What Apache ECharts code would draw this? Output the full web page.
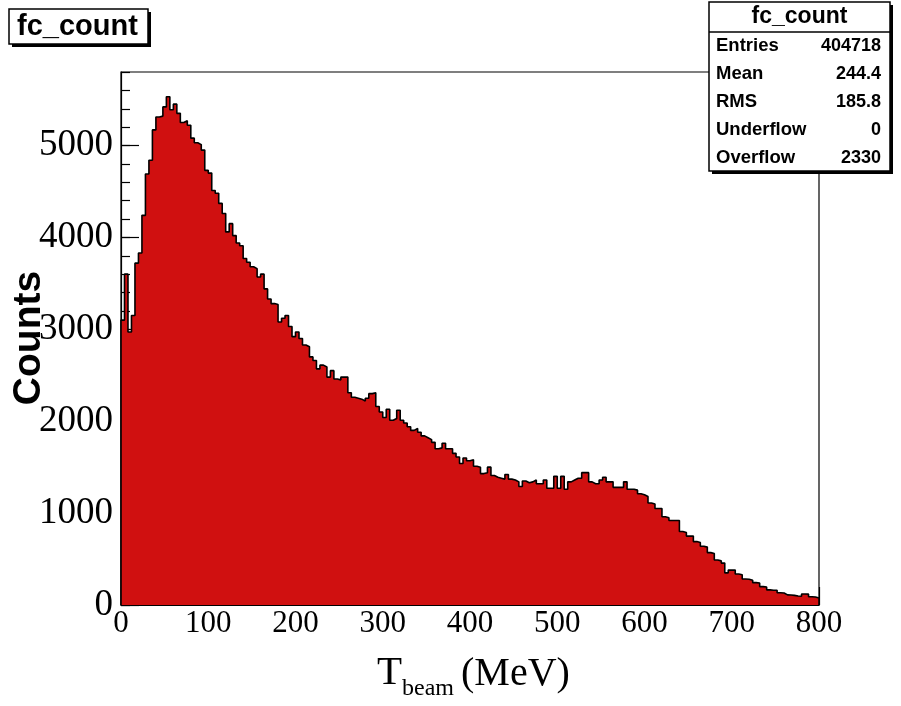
<!DOCTYPE html>
<html>
<head>
<meta charset="utf-8">
<script src="https://cdn.jsdelivr.net/npm/echarts@6/dist/echarts.min.js"></script>
<style>html,body{margin:0;padding:0;background:#fff;}#c{width:901px;height:706px;}</style>
</head>
<body>
<div id="c"></div>
<script>
// Histogram: 200 bins of 4 MeV from 0 to 800 MeV
var binWidth = 4;
var xMin = 0, xMax = 800;
var yMax = 5800;
var xTicks = [0, 100, 200, 300, 400, 500, 600, 700, 800];
var yTicks = [0, 1000, 2000, 3000, 4000, 5000];
var counts = [
  3100, 3600, 2970, 3150, 3720, 3830, 4240, 4690, 4840, 5170,
  5310, 5320, 5420, 5530, 5390, 5450, 5350, 5250, 5270, 5220,
  5080, 5030, 5010, 4950, 4730, 4700, 4510, 4480, 4370, 4260,
  4060, 4150, 4020, 3940, 3910, 3770, 3730, 3680, 3660, 3570,
  3600, 3440, 3330, 3280, 3270, 3080, 3120, 3150, 3030, 2920,
  2970, 2900, 2830, 2810, 2700, 2660, 2570, 2610, 2590, 2480,
  2550, 2460, 2450, 2480, 2480, 2310, 2260, 2250, 2240, 2220,
  2250, 2300, 2310, 2160, 2100, 2040, 2130, 2010, 2030, 2120,
  2010, 1980, 1940, 1900, 1920, 1880, 1840, 1820, 1800, 1770,
  1700, 1710, 1760, 1700, 1700, 1650, 1610, 1540, 1600, 1570,
  1580, 1510, 1500, 1430, 1440, 1500, 1410, 1390, 1380, 1370,
  1420, 1370, 1360, 1340, 1290, 1350, 1330, 1340, 1360, 1320,
  1320, 1360, 1270, 1270, 1400, 1270, 1400, 1260, 1340, 1360,
  1380, 1380, 1440, 1440, 1340, 1320, 1320, 1360, 1390, 1340,
  1340, 1280, 1280, 1280, 1340, 1260, 1260, 1250, 1210, 1200,
  1180, 1110, 1100, 1050, 1050, 960, 950, 920, 920, 920,
  800, 790, 750, 750, 690, 680, 640, 630, 570, 560,
  490, 480, 456, 350, 380, 380, 337, 330, 283, 280,
  270, 243, 240, 200, 195, 165, 160, 160, 134, 130,
  110, 108, 105, 98, 95, 120, 118, 90, 87, 76
];
var statsLabels = ['Entries', 'Mean', 'RMS', 'Underflow', 'Overflow'];
var statsValues = ['404718', '244.4', '185.8', '0', '2330'];
var histTitle = 'fc_count';

// Build step outline points (bin edges)
var pts = [[xMin, 0]];
for (var i = 0; i < counts.length; i++) pts.push([xMin + i * binWidth, counts[i]]);
pts.push([xMin + counts.length * binWidth, counts[counts.length - 1]]);
pts.push([xMin + counts.length * binWidth, 0]);

var chart = echarts.init(document.getElementById('c'), null, {renderer: 'canvas'});
var serif = 'Liberation Serif';
var sans = 'Liberation Sans';

var gL = 121, gT = 72, gW = 698, gH = 533;

var graphics = [];
// title box (top-left)
graphics.push({type: 'rect', shape: {x: 12, y: 12, width: 139, height: 35}, style: {fill: '#000'}, z: 10});
graphics.push({type: 'rect', shape: {x: 9, y: 9, width: 139, height: 35}, style: {fill: '#fff', stroke: '#000', lineWidth: 1.5}, z: 11});
graphics.push({type: 'text', x: 17, y: 27, style: {text: histTitle, font: 'bold 29px "' + sans + '"', fill: '#000', textVerticalAlign: 'middle'}, z: 12});

// stats box
var bx = 709, by = 2, bw = 181, bh = 169;
graphics.push({type: 'rect', shape: {x: bx + 3, y: by + 3, width: bw, height: bh}, style: {fill: '#000'}, z: 10});
graphics.push({type: 'rect', shape: {x: bx, y: by, width: bw, height: bh}, style: {fill: '#fff', stroke: '#000', lineWidth: 1.5}, z: 11});
graphics.push({type: 'line', shape: {x1: bx, y1: 32, x2: bx + bw, y2: 32}, style: {stroke: '#000', lineWidth: 1.5}, z: 12});
graphics.push({type: 'text', x: bx + bw / 2, y: 17, style: {text: histTitle, font: 'bold 23px "' + sans + '"', fill: '#000', textAlign: 'center', textVerticalAlign: 'middle'}, z: 12});
for (var k = 0; k < statsLabels.length; k++) {
  var ry = 46 + k * 28;
  graphics.push({type: 'text', x: 716, y: ry, style: {text: statsLabels[k], font: 'bold 18.5px "' + sans + '"', fill: '#000', textVerticalAlign: 'middle'}, z: 12});
  graphics.push({type: 'text', x: 881, y: ry, style: {text: statsValues[k], font: 'bold 18px "' + sans + '"', fill: '#000', textAlign: 'right', textVerticalAlign: 'middle'}, z: 12});
}
// Y axis title
graphics.push({type: 'text', x: 29, y: 338, rotation: Math.PI / 2, style: {text: 'Counts', font: 'bold 39px "' + sans + '"', fill: '#000', textAlign: 'center', textVerticalAlign: 'middle'}, z: 12});
// X axis title: T_beam (MeV)
graphics.push({type: 'text', x: 377, y: 653, style: {text: 'T', font: '41px "' + serif + '"', fill: '#000'}, z: 12});
graphics.push({type: 'text', x: 402, y: 677, style: {text: 'beam', font: '24px "' + serif + '"', fill: '#000'}, z: 12});
graphics.push({type: 'text', x: 461, y: 654, style: {text: '(MeV)', font: '40px "' + serif + '"', fill: '#000'}, z: 12});

var option = {
  animation: false,
  backgroundColor: '#fff',
  grid: {left: gL, top: gT, width: gW, height: gH, show: true, borderColor: '#000', borderWidth: 1.2, backgroundColor: 'transparent'},
  xAxis: [{
    type: 'value', min: xMin, max: xMax, interval: 100, position: 'bottom',
    axisLine: {show: true, onZero: false, lineStyle: {color: '#000', width: 1.2}},
    axisTick: {show: true, inside: true, length: 18, lineStyle: {color: '#000', width: 1.2}},
    minorTick: {show: true, splitNumber: 5, length: 9, lineStyle: {color: '#000', width: 1.2}},
    axisLabel: {show: true, color: '#000', fontFamily: serif, fontSize: 31, margin: 3,
      formatter: function (v) { return xTicks.indexOf(v) >= 0 ? String(v) : ''; }},
    splitLine: {show: false}
  }],
  yAxis: [{
    type: 'value', min: 0, max: yMax, interval: 1000, position: 'left',
    axisLine: {show: true, onZero: false, lineStyle: {color: '#000', width: 1.2}},
    axisTick: {show: true, inside: true, length: 18, lineStyle: {color: '#000', width: 1.2}},
    axisLabel: {show: true, color: '#000', fontFamily: serif, fontSize: 37, margin: 8, showMaxLabel: false,
      formatter: function (v) { return yTicks.indexOf(v) >= 0 ? String(v) : ''; }},
    splitLine: {show: false}
  }, {
    type: 'value', min: 0, max: yMax, interval: 200, position: 'left', offset: 0,
    axisLine: {show: false},
    axisTick: {show: true, inside: true, length: 9, lineStyle: {color: '#000', width: 1.2}},
    axisLabel: {show: false},
    splitLine: {show: false}
  }],
  graphic: graphics,
  series: [{
    type: 'line', step: 'end', data: pts, symbol: 'none', xAxisIndex: 0, yAxisIndex: 0,
    lineStyle: {color: '#000', width: 1.6},
    areaStyle: {color: '#d01010', opacity: 1},
    z: 2
  }]
};
chart.setOption(option);
</script>
</body>
</html>
